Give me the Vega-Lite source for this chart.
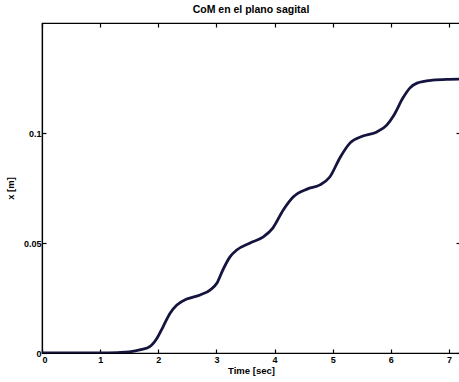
{
  "$schema": "https://vega.github.io/schema/vega-lite/v6.json",
  "width": 418,
  "height": 330,
  "autosize": {"type": "none"},
  "padding": {"left": 42, "top": 23, "right": 0, "bottom": 29},
  "background": "white",
  "title": {"text": "CoM en el plano sagital", "font": "Liberation Sans", "fontSize": 10.5, "fontWeight": "bold", "color": "black", "offset": 7, "anchor": "middle"},
  "config": {
    "view": {"stroke": "black", "strokeWidth": 1.2},
    "axis": {
      "grid": false,
      "domainColor": "black",
      "domainWidth": 1.2,
      "tickColor": "black",
      "tickWidth": 1.2,
      "tickSize": -4,
      "labelFont": "Liberation Sans",
      "labelFontWeight": "bold",
      "labelFontSize": 9,
      "labelColor": "black",
      "titleFont": "Liberation Sans",
      "titleFontWeight": "bold",
      "titleFontSize": 9.5,
      "titleColor": "black"
    }
  },
  "data": {"values": [
    {"t": 0, "x": 0}, {"t": 0.5, "x": 0}, {"t": 1.0, "x": 0}, {"t": 1.3, "x": 0.0002},
    {"t": 1.5, "x": 0.0005}, {"t": 1.7, "x": 0.0015}, {"t": 1.86, "x": 0.003}, {"t": 1.98, "x": 0.0068},
    {"t": 2.08, "x": 0.0118}, {"t": 2.2, "x": 0.018}, {"t": 2.32, "x": 0.0218}, {"t": 2.49, "x": 0.0245},
    {"t": 2.72, "x": 0.0264}, {"t": 2.89, "x": 0.0286}, {"t": 3.01, "x": 0.0318}, {"t": 3.11, "x": 0.0377},
    {"t": 3.23, "x": 0.0436}, {"t": 3.35, "x": 0.0468}, {"t": 3.58, "x": 0.05}, {"t": 3.8, "x": 0.0527},
    {"t": 3.97, "x": 0.0568}, {"t": 4.15, "x": 0.065}, {"t": 4.32, "x": 0.0709}, {"t": 4.56, "x": 0.0745},
    {"t": 4.78, "x": 0.0764}, {"t": 4.95, "x": 0.08}, {"t": 5.13, "x": 0.089}, {"t": 5.3, "x": 0.0955},
    {"t": 5.52, "x": 0.0986}, {"t": 5.76, "x": 0.1005}, {"t": 5.93, "x": 0.1036}, {"t": 6.05, "x": 0.108},
    {"t": 6.21, "x": 0.116}, {"t": 6.33, "x": 0.1205}, {"t": 6.45, "x": 0.1227}, {"t": 6.72, "x": 0.124},
    {"t": 7.0, "x": 0.1244}, {"t": 7.2, "x": 0.1245}
  ]},
  "layer": [
    {
      "mark": {"type": "line", "color": "#14143f", "strokeWidth": 2.8, "interpolate": "monotone", "clip": true},
      "encoding": {
        "x": {"field": "t", "type": "quantitative", "scale": {"domain": [0, 7.19], "nice": false, "zero": false},
          "axis": {"title": "Time [sec]", "values": [0, 1, 2, 3, 4, 5, 6, 7], "format": "d", "labelPadding": 6, "titlePadding": 1}},
        "y": {"field": "x", "type": "quantitative", "scale": {"domain": [0, 0.15], "nice": false},
          "axis": {"title": "x [m]", "values": [0, 0.05, 0.1], "format": "~g", "labelPadding": 5, "titlePadding": 8}}
      }
    },
    {
      "mark": {"type": "line", "opacity": 0, "clip": true},
      "encoding": {
        "x": {"field": "t", "type": "quantitative", "axis": {"orient": "top", "labels": false, "title": null, "domain": false, "values": [0, 1, 2, 3, 4, 5, 6, 7]}},
        "y": {"field": "x", "type": "quantitative", "axis": {"orient": "right", "labels": false, "title": null, "domain": false, "values": [0, 0.05, 0.1]}}
      }
    }
  ],
  "resolve": {"axis": {"x": "independent", "y": "independent"}}
}
